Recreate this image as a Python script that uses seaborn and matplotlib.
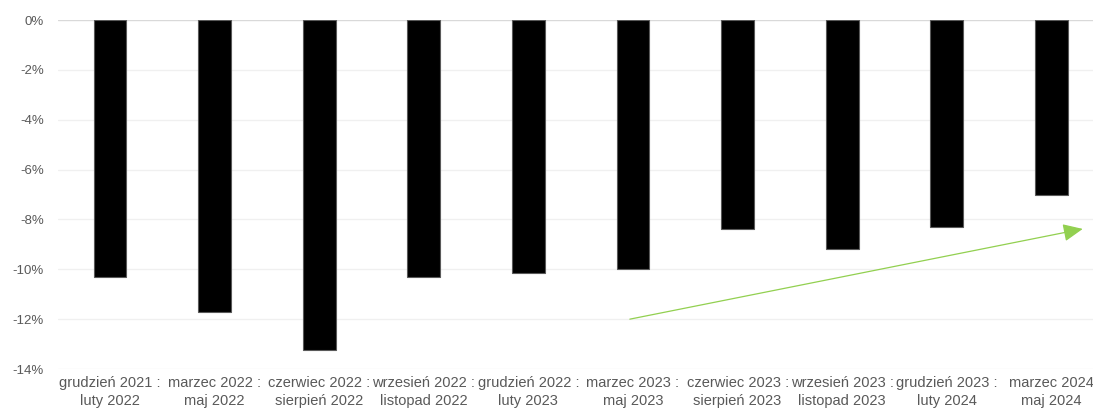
import matplotlib
matplotlib.use("Agg")
import matplotlib.pyplot as plt
import seaborn as sns
import pandas as pd

categories = [
    "grudzień 2021 :\nluty 2022",
    "marzec 2022 :\nmaj 2022",
    "czerwiec 2022 :\nsierpień 2022",
    "wrzesień 2022 :\nlistopad 2022",
    "grudzień 2022 :\nluty 2023",
    "marzec 2023 :\nmaj 2023",
    "czerwiec 2023 :\nsierpień 2023",
    "wrzesień 2023 :\nlistopad 2023",
    "grudzień 2023 :\nluty 2024",
    "marzec 2024\nmaj 2024",
]
values = [-10.3, -11.7, -13.25, -10.3, -10.15, -10.0, -8.4, -9.2, -8.3, -7.0]
y_ticks = [0, -2, -4, -6, -8, -10, -12, -14]
arrow_x = [4.97, 9.3]
arrow_y = [-12.0, -8.38]

sns.set_theme(style="white")
plt.rcParams["font.family"] = ["Liberation Sans", "DejaVu Sans"]

df = pd.DataFrame({"okres": categories, "zmiana": values})

fig = plt.figure(figsize=(10.93, 4.15), dpi=100)
ax = fig.add_axes([0.0528, 0.1108, 0.9472, 0.841])

sns.barplot(data=df, x="okres", y="zmiana", color="black", width=0.315,
            edgecolor="#595959", linewidth=0.8, saturation=1, ax=ax, zorder=3)

ax.set_ylim(-14, 0)
ax.set_xlim(-0.5, 9.398)
ax.set_yticks(y_ticks)
ax.set_yticklabels([f"{t}%" for t in y_ticks])
for t in y_ticks:
    ax.axhline(t, color="#D9D9D9" if t == 0 else "#F0F0F0", linewidth=1, zorder=1)

ax.set_xlabel("")
ax.set_ylabel("")
for s in ax.spines.values():
    s.set_visible(False)
ax.tick_params(axis="both", length=0, colors="#595959")
ax.tick_params(axis="y", pad=10, labelsize=9.5)
ax.tick_params(axis="x", pad=5, labelsize=10.5)
for lbl in ax.get_xticklabels():
    lbl.set_linespacing(1.35)
ax.grid(False)

ax.annotate("", xy=(arrow_x[1], arrow_y[1]), xytext=(arrow_x[0], arrow_y[0]),
            arrowprops=dict(arrowstyle="-|>,head_length=1.0,head_width=0.45",
                            color="#92D050", lw=0.9, shrinkA=0, shrinkB=0),
            zorder=4)

fig.savefig("out.png", dpi=100)
